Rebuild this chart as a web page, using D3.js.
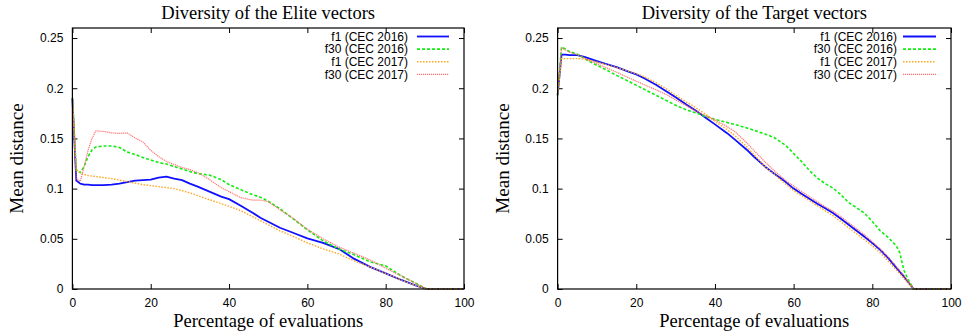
<!DOCTYPE html>
<html><head><meta charset="utf-8">
<script src="https://cdn.jsdelivr.net/npm/d3@7"></script>
<style>body{margin:0;background:#fff}svg{display:block}</style>
</head><body>
<svg id="c" width="964" height="335"></svg>
<script>
// ---- data ----
const titles = ["Diversity of the Elite vectors", "Diversity of the Target vectors"];
const seriesNames = ["f1 (CEC 2016)", "f30 (CEC 2016)", "f1 (CEC 2017)", "f30 (CEC 2017)"];
const xTicks = [0, 20, 40, 60, 80, 100];
const yTicks = [0, 0.05, 0.1, 0.15, 0.2, 0.25];
const yTickLabels = ["0", "0.05", "0.1", "0.15", "0.2", "0.25"];

// Elite panel
const xElite = [0,1,2,3,4,5,6,8,10,12,14,16,18,20,22,24,26,28,30,32,35,38,40,43,46,48,50,53,56,60,64,68,72,76,80,84,88,90.5,100];
const eliteF1_2016 = [0.19,0.108,0.105,0.104,0.104,0.1035,0.1035,0.1035,0.104,0.105,0.1065,0.108,0.1085,0.109,0.111,0.112,0.110,0.1085,0.105,0.102,0.097,0.092,0.0895,0.083,0.076,0.071,0.067,0.061,0.0565,0.0505,0.046,0.040,0.030,0.022,0.0155,0.009,0.003,0,0];
const eliteF30_2016 = [0.19,0.118,0.116,0.122,0.132,0.1385,0.1415,0.1425,0.1425,0.141,0.1365,0.134,0.131,0.1285,0.126,0.1245,0.122,0.1195,0.117,0.115,0.1135,0.109,0.104,0.099,0.094,0.0915,0.0875,0.080,0.071,0.059,0.048,0.040,0.034,0.027,0.023,0.013,0.005,0,0];
const eliteF1_2017 = [0.19,0.119,0.116,0.114,0.113,0.1125,0.112,0.111,0.110,0.1085,0.107,0.1055,0.104,0.103,0.102,0.101,0.100,0.098,0.0957,0.093,0.089,0.085,0.0823,0.078,0.072,0.068,0.064,0.058,0.053,0.046,0.040,0.035,0.028,0.022,0.0155,0.009,0.003,0,0];
const eliteF30_2017 = [0.19,0.11,0.107,0.122,0.138,0.15,0.1575,0.157,0.1555,0.155,0.1555,0.1505,0.1465,0.138,0.132,0.127,0.124,0.121,0.119,0.116,0.109,0.101,0.097,0.091,0.0885,0.0885,0.087,0.079,0.0715,0.0595,0.050,0.042,0.0355,0.029,0.0207,0.013,0.005,0,0];

// Target panel
const xTarget = [0,1,2,3,5,7,10,12,15,18,20,22,25,28,30,33,35,38,40,43,45,48,50,53,55,58,60,62,64,66,68,70,72,74,76,78,80,82,84,86,87,88,89,90.5,100];
const targetF1_2016 = [0.193,0.2335,0.2335,0.233,0.233,0.231,0.227,0.2245,0.221,0.2165,0.2138,0.21,0.2035,0.196,0.191,0.183,0.178,0.1695,0.164,0.1555,0.149,0.139,0.1315,0.121,0.115,0.1065,0.100,0.095,0.090,0.085,0.0805,0.0757,0.070,0.064,0.058,0.052,0.0457,0.039,0.031,0.0215,0.017,0.0125,0.0075,0,0];
const targetF30_2016 = [0.193,0.241,0.239,0.2365,0.234,0.229,0.2228,0.219,0.2128,0.207,0.203,0.199,0.193,0.187,0.183,0.178,0.1756,0.1715,0.169,0.166,0.164,0.1605,0.158,0.154,0.151,0.143,0.135,0.127,0.118,0.1107,0.105,0.1005,0.094,0.086,0.081,0.0755,0.0673,0.058,0.0515,0.0435,0.036,0.019,0.010,0,0];
const targetF1_2017 = [0.193,0.2295,0.2295,0.2295,0.2295,0.229,0.226,0.224,0.2205,0.217,0.2145,0.2115,0.2055,0.1985,0.193,0.1855,0.181,0.173,0.167,0.159,0.153,0.142,0.1335,0.121,0.1145,0.1045,0.098,0.093,0.088,0.083,0.078,0.073,0.067,0.061,0.055,0.049,0.043,0.036,0.028,0.0195,0.015,0.0105,0.006,0,0];
const targetF30_2017 = [0.193,0.2405,0.238,0.236,0.2335,0.2295,0.2245,0.221,0.216,0.2105,0.207,0.2035,0.1985,0.193,0.1885,0.182,0.1775,0.172,0.1685,0.162,0.157,0.146,0.1375,0.1255,0.118,0.108,0.1025,0.097,0.092,0.087,0.082,0.0775,0.072,0.066,0.060,0.054,0.047,0.040,0.032,0.023,0.018,0.0135,0.008,0,0];

// ---- drawing ----
const styles = [
  {color:"#1010ff", width:1.8, dash:null, opacity:1},
  {color:"#10ee10", width:1.6, dash:"3,2", opacity:1},
  {color:"#ffa520", width:1.4, dash:"1.5,1.5", opacity:1},
  {color:"#ff6464", width:1.2, dash:"1.2,0.8", opacity:0.9}
];
const panels = [
  {x0:72.4, x1:464, xs:xElite, ys:[eliteF1_2016, eliteF30_2016, eliteF1_2017, eliteF30_2017], ylab:23, legText:408, legLine:[417,449]},
  {x0:557.6, x1:951, xs:xTarget, ys:[targetF1_2016, targetF30_2016, targetF1_2017, targetF30_2017], ylab:509, legText:897, legLine:[903,936]}
];
const plotTop = 28, plotBottom = 289;
const svg = d3.select("#c");
const serif = "'Liberation Serif','DejaVu Serif',serif";
const sans = "'Liberation Sans',Arial,sans-serif";

panels.forEach((p, pi) => {
  const x = d3.scaleLinear().domain([0,100]).range([p.x0, p.x1]);
  const y = d3.scaleLinear().domain([0,0.26]).range([plotBottom, plotTop]);
  const g = svg.append("g");

  // ticks (inward, mirrored)
  const tl = 5;
  const ax = d3.axisBottom(x).tickValues(xTicks).tickSize(-tl).tickPadding(9).tickFormat(d3.format("d"));
  const gx = g.append("g").attr("transform", `translate(0,${plotBottom})`).call(ax);
  const axT = d3.axisTop(x).tickValues(xTicks).tickSize(-tl).tickFormat("");
  const gxt = g.append("g").attr("transform", `translate(0,${plotTop})`).call(axT);
  const ay = d3.axisLeft(y).tickValues(yTicks).tickSize(-tl).tickPadding(9).tickFormat((d,i)=>yTickLabels[i]);
  const gy = g.append("g").attr("transform", `translate(${p.x0},0)`).call(ay);
  const ayR = d3.axisRight(y).tickValues(yTicks).tickSize(-tl).tickFormat("");
  const gyr = g.append("g").attr("transform", `translate(${p.x1},0)`).call(ayR);
  [gx,gxt,gy,gyr].forEach(a => {
    a.select(".domain").remove();
    a.selectAll("line").attr("stroke","#000").attr("stroke-width",1);
    a.selectAll("text").attr("font-family", sans).attr("font-size", 12).attr("fill","#000");
  });
  gx.selectAll("text").attr("dy", "0.71em");

  // series
  const line = d3.line().x((d,i)=>x(p.xs[i])).y(d=>y(d));
  p.ys.forEach((vals, si) => {
    const s = styles[si];
    g.append("path").datum(vals).attr("d", line)
      .attr("fill","none").attr("stroke", s.color).attr("stroke-width", s.width)
      .attr("stroke-dasharray", s.dash).attr("opacity", s.opacity)
      .attr("stroke-linejoin","round");
  });

  // frame
  g.append("rect").attr("x", p.x0).attr("y", plotTop).attr("width", p.x1 - p.x0).attr("height", plotBottom - plotTop)
    .attr("fill","none").attr("stroke","#000").attr("stroke-width",1.2);

  // legend
  seriesNames.forEach((n, si) => {
    const yy = 36.5 + si * 12.6;
    const s = styles[si];
    g.append("text").attr("x", p.legText).attr("y", yy).attr("dy","0.35em")
      .attr("text-anchor","end").attr("font-family", sans).attr("font-size", 12).text(n);
    g.append("line").attr("x1", p.legLine[0]).attr("x2", p.legLine[1]).attr("y1", yy).attr("y2", yy)
      .attr("stroke", s.color).attr("stroke-width", s.width).attr("stroke-dasharray", s.dash).attr("opacity", s.opacity);
  });

  // titles & labels
  g.append("text").attr("x", (p.x0 + p.x1)/2).attr("y", 19).attr("text-anchor","middle")
    .attr("font-family", serif).attr("font-size", 18.5).text(titles[pi]);
  g.append("text").attr("x", (p.x0 + p.x1)/2).attr("y", 327).attr("text-anchor","middle")
    .attr("font-family", serif).attr("font-size", 18.5).text("Percentage of evaluations");
  g.append("text").attr("transform", `translate(${p.ylab},${(plotTop+plotBottom)/2}) rotate(-90)`)
    .attr("text-anchor","middle").attr("font-family", serif).attr("font-size", 19).text("Mean distance");
});
</script>
</body></html>
